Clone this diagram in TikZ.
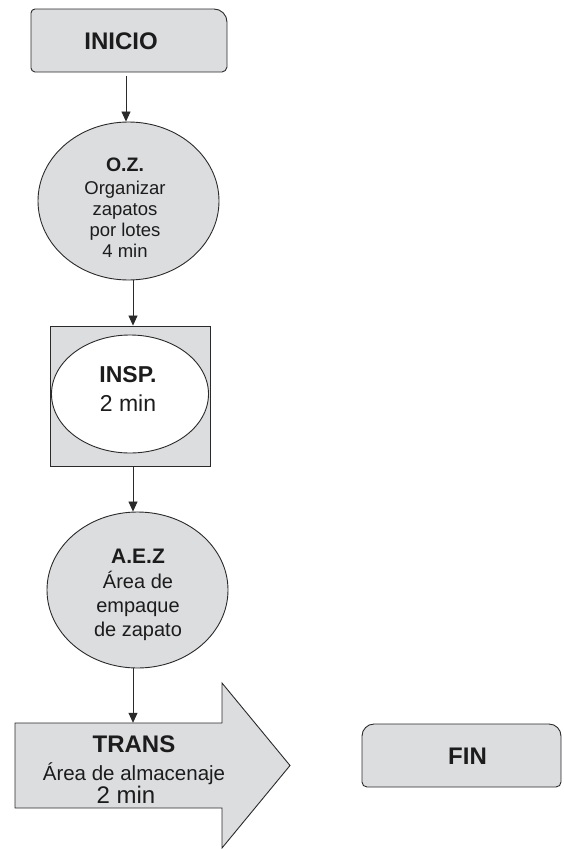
\documentclass[tikz,border=0pt]{standalone}
\usepackage{fontspec}
\setmainfont{Liberation Sans}
\usetikzlibrary{arrows.meta,shapes.geometric}
\definecolor{boxgray}{HTML}{DCDDDF}
\definecolor{inkline}{HTML}{2A2A2A}
\definecolor{inktext}{HTML}{1C1C1C}

\begin{document}
\begin{tikzpicture}[x=1pt,y=-1pt,
  outline/.style={draw=inkline, line width=0.9pt},
  grayfill/.style={outline, fill=boxgray},
  oval/.style={ellipse, grayfill, inner sep=0pt},
  frame/.style={inner sep=0pt},
  txt/.style={align=center, text=inktext, inner sep=0pt},
  flow/.style={draw=inkline, line width=0.8pt, -{Triangle[width=9pt,length=10pt]}},
]
\useasboundingbox (0,0) rectangle (563,849);

% start terminal
\path[grayfill] (35,9) -- (214,9) .. controls (221.2,9) and (227,14.8) .. (227,22)
  -- (227,67) .. controls (227,69.8) and (224.2,72) .. (222,72)
  -- (35,72) .. controls (32.8,72) and (31,69.8) .. (31,68)
  -- (31,13) .. controls (31,10.8) and (32.8,9) .. (35,9) -- cycle;
\node[frame, minimum width=196pt, minimum height=63pt] (inicio) at (129,40.5) {};
\node[txt, font=\bfseries\fontsize{24}{28}\selectfont] (iniciotext) at (121,41) {INICIO};

% operation: organise shoes
\node[oval, minimum width=181pt, minimum height=158pt] (oz) at (128.5,201) {};
\node[txt, font=\fontsize{18.5}{21}\selectfont] (oztext) at (125,208)
  {{\bfseries\fontsize{19.5}{21}\selectfont O.Z.}\\[2pt] Organizar\\ zapatos\\ por lotes\\ 4 min};

% inspection
\node[grayfill, frame, minimum width=160pt, minimum height=140pt] (insp) at (130,396) {};
\node[ellipse, outline, fill=white, inner sep=0pt, minimum width=157pt, minimum height=118pt] (inspoval) at (130,394) {};
\node[txt, font=\fontsize{23}{29}\selectfont] (insptext) at (128,388.5)
  {{\bfseries INSP.}\\ 2 min};

% packing area
\node[oval, minimum width=181pt, minimum height=156pt] (aez) at (137.5,590) {};
\node[txt, font=\fontsize{20}{24}\selectfont] (aeztext) at (138,595)
  {{\bfseries\fontsize{21}{24}\selectfont A.E.Z}\\[1pt] Área de\\ empaque\\ de zapato};

% transport arrow
\path[grayfill] (15,723) -- (222,723) -- (222,683) -- (290,765.5) -- (222,848)
  -- (222,808) -- (15,808) -- cycle;
\node[frame, minimum width=207pt, minimum height=85pt] (trans) at (118.5,765.5) {};
\node[txt, font=\fontsize{20.5}{21}\selectfont] (transtext) at (134,769.5)
  {{\bfseries\fontsize{24}{21}\selectfont TRANS}\\[7pt] Área de almacenaje\\ {\fontsize{24}{21}\selectfont 2 min\hspace*{16pt}}};

% end terminal
\path[grayfill] (374,724) -- (549,724) .. controls (555.6,724) and (561,729.4) .. (561,736)
  -- (561,782) .. controls (561,784.8) and (558.8,787) .. (556,787)
  -- (367,787) .. controls (364.2,787) and (362,784.8) .. (362,782)
  -- (362,736) .. controls (362,729.4) and (367.4,724) .. (374,724) -- cycle;
\node[frame, minimum width=199pt, minimum height=63pt] (fin) at (461.5,755.5) {};
\node[txt, font=\bfseries\fontsize{24}{28}\selectfont] (fintext) at (467.5,756) {FIN};

% connectors
\coordinate (c1) at (126,76);
\coordinate (c2) at (133,0);
\draw[flow] (c1) -- (c1 |- oz.north);
\draw[flow] (oz.south -| c2) -- (insp.north -| c2);
\draw[flow] (insp.south -| c2) -- (aez.north -| c2);
\draw[flow] (aez.south -| c2) -- (trans.north -| c2);
\end{tikzpicture}
\end{document}
